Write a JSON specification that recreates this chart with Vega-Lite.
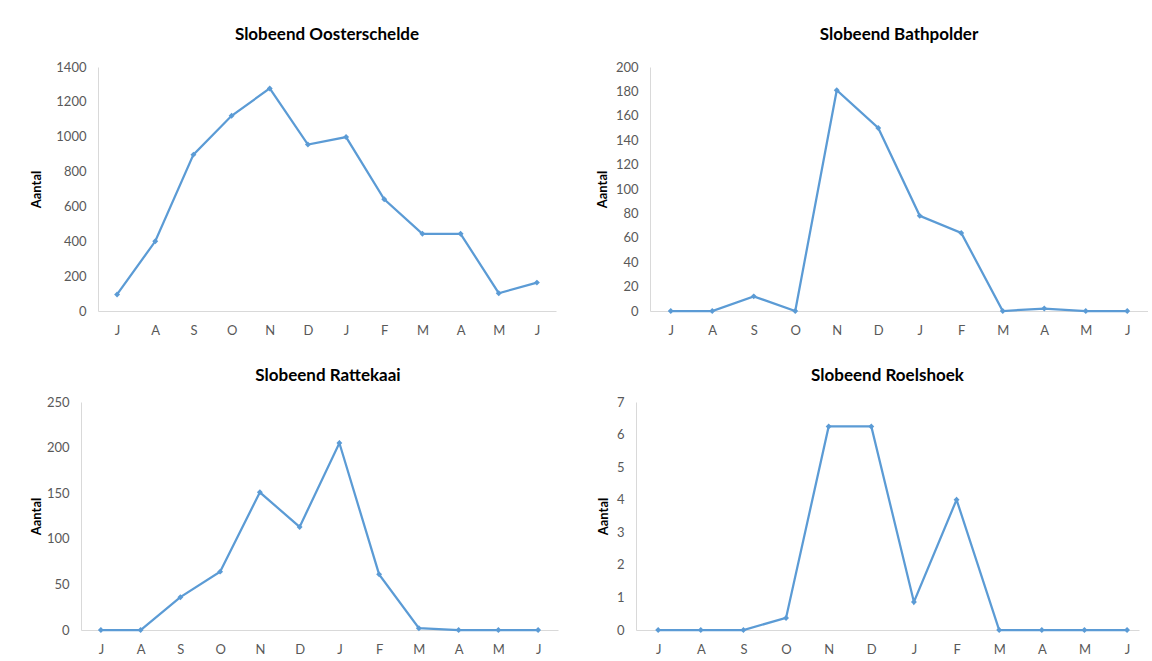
{
  "$schema": "https://vega.github.io/schema/vega-lite/v6.json",
  "padding": {"left": 30, "top": 26, "right": 0, "bottom": 0},
  "background": "#ffffff",
  "data": {
    "values": [
      {"gebied": "Oosterschelde", "maand": "jul", "aantal": 95},
      {"gebied": "Oosterschelde", "maand": "aug", "aantal": 400},
      {"gebied": "Oosterschelde", "maand": "sep", "aantal": 897},
      {"gebied": "Oosterschelde", "maand": "okt", "aantal": 1120},
      {"gebied": "Oosterschelde", "maand": "nov", "aantal": 1277},
      {"gebied": "Oosterschelde", "maand": "dec", "aantal": 955},
      {"gebied": "Oosterschelde", "maand": "jan", "aantal": 998},
      {"gebied": "Oosterschelde", "maand": "feb", "aantal": 641},
      {"gebied": "Oosterschelde", "maand": "mrt", "aantal": 443},
      {"gebied": "Oosterschelde", "maand": "apr", "aantal": 443},
      {"gebied": "Oosterschelde", "maand": "mei", "aantal": 102},
      {"gebied": "Oosterschelde", "maand": "jun", "aantal": 163},
      {"gebied": "Bathpolder", "maand": "jul", "aantal": 0},
      {"gebied": "Bathpolder", "maand": "aug", "aantal": 0},
      {"gebied": "Bathpolder", "maand": "sep", "aantal": 12},
      {"gebied": "Bathpolder", "maand": "okt", "aantal": 0},
      {"gebied": "Bathpolder", "maand": "nov", "aantal": 181},
      {"gebied": "Bathpolder", "maand": "dec", "aantal": 150},
      {"gebied": "Bathpolder", "maand": "jan", "aantal": 78},
      {"gebied": "Bathpolder", "maand": "feb", "aantal": 64},
      {"gebied": "Bathpolder", "maand": "mrt", "aantal": 0},
      {"gebied": "Bathpolder", "maand": "apr", "aantal": 2},
      {"gebied": "Bathpolder", "maand": "mei", "aantal": 0},
      {"gebied": "Bathpolder", "maand": "jun", "aantal": 0},
      {"gebied": "Rattekaai", "maand": "jul", "aantal": 0},
      {"gebied": "Rattekaai", "maand": "aug", "aantal": 0},
      {"gebied": "Rattekaai", "maand": "sep", "aantal": 36},
      {"gebied": "Rattekaai", "maand": "okt", "aantal": 64},
      {"gebied": "Rattekaai", "maand": "nov", "aantal": 151},
      {"gebied": "Rattekaai", "maand": "dec", "aantal": 113},
      {"gebied": "Rattekaai", "maand": "jan", "aantal": 205},
      {"gebied": "Rattekaai", "maand": "feb", "aantal": 61},
      {"gebied": "Rattekaai", "maand": "mrt", "aantal": 2},
      {"gebied": "Rattekaai", "maand": "apr", "aantal": 0},
      {"gebied": "Rattekaai", "maand": "mei", "aantal": 0},
      {"gebied": "Rattekaai", "maand": "jun", "aantal": 0},
      {"gebied": "Roelshoek", "maand": "jul", "aantal": 0},
      {"gebied": "Roelshoek", "maand": "aug", "aantal": 0},
      {"gebied": "Roelshoek", "maand": "sep", "aantal": 0},
      {"gebied": "Roelshoek", "maand": "okt", "aantal": 0.37},
      {"gebied": "Roelshoek", "maand": "nov", "aantal": 6.25},
      {"gebied": "Roelshoek", "maand": "dec", "aantal": 6.25},
      {"gebied": "Roelshoek", "maand": "jan", "aantal": 0.86},
      {"gebied": "Roelshoek", "maand": "feb", "aantal": 4},
      {"gebied": "Roelshoek", "maand": "mrt", "aantal": 0},
      {"gebied": "Roelshoek", "maand": "apr", "aantal": 0},
      {"gebied": "Roelshoek", "maand": "mei", "aantal": 0},
      {"gebied": "Roelshoek", "maand": "jun", "aantal": 0}
    ]
  },
  "config": {
    "font": "Lato",
    "view": {"stroke": null},
    "axis": {
      "domainColor": "#D9D9D9",
      "domainWidth": 1,
      "ticks": false,
      "grid": false,
      "labelColor": "#595959",
      "labelFont": "Lato",
      "labelFontSize": 13,
      "titleFont": "Lato",
      "titleFontSize": 13,
      "titleFontWeight": "bold",
      "titleColor": "#000000"
    },
    "axisX": {"labelAngle": 0, "labelPadding": 13, "title": null},
    "axisY": {"labelPadding": 12, "format": "d"},
    "title": {"font": "Lato", "fontSize": 17, "fontWeight": "bold", "color": "#000000", "anchor": "middle", "offset": 17}
  },
  "align": "none",
  "spacing": 30,
  "vconcat": [
    {
      "align": "none",
      "spacing": 40,
      "hconcat": [
        {
          "title": "Slobeend Oosterschelde",
          "width": 458,
          "height": 244,
          "transform": [{"filter": "datum.gebied === 'Oosterschelde'"}],
          "mark": {"type": "line", "color": "#5B9BD5", "strokeWidth": 2.25, "point": {"shape": "diamond", "size": 35, "filled": true, "color": "#5B9BD5"}},
          "encoding": {
            "x": {"field": "maand", "type": "ordinal", "sort": ["jul", "aug", "sep", "okt", "nov", "dec", "jan", "feb", "mrt", "apr", "mei", "jun"], "scale": {"type": "point", "padding": 0.5}, "axis": {"labelExpr": "upper(slice(datum.value, 0, 1))"}},
            "y": {"field": "aantal", "type": "quantitative", "scale": {"domain": [0, 1400], "nice": false}, "axis": {"title": "Aantal", "values": [0, 200, 400, 600, 800, 1000, 1200, 1400], "titlePadding": 12}}
          }
        },
        {
          "title": "Slobeend Bathpolder",
          "width": 498,
          "height": 244,
          "transform": [{"filter": "datum.gebied === 'Bathpolder'"}],
          "mark": {"type": "line", "color": "#5B9BD5", "strokeWidth": 2.25, "point": {"shape": "diamond", "size": 35, "filled": true, "color": "#5B9BD5"}},
          "encoding": {
            "x": {"field": "maand", "type": "ordinal", "sort": ["jul", "aug", "sep", "okt", "nov", "dec", "jan", "feb", "mrt", "apr", "mei", "jun"], "scale": {"type": "point", "padding": 0.5}, "axis": {"labelExpr": "upper(slice(datum.value, 0, 1))"}},
            "y": {"field": "aantal", "type": "quantitative", "scale": {"domain": [0, 200], "nice": false}, "axis": {"title": "Aantal", "values": [0, 20, 40, 60, 80, 100, 120, 140, 160, 180, 200], "titlePadding": 6}}
          }
        }
      ]
    },
    {
      "align": "none",
      "spacing": 22,
      "hconcat": [
        {
          "title": {"text": "Slobeend Rattekaai", "offset": 11},
          "width": 460,
          "height": 228,
          "transform": [{"filter": "datum.gebied === 'Rattekaai'"}],
          "mark": {"type": "line", "color": "#5B9BD5", "strokeWidth": 2.25, "point": {"shape": "diamond", "size": 35, "filled": true, "color": "#5B9BD5"}},
          "encoding": {
            "x": {"field": "maand", "type": "ordinal", "sort": ["jul", "aug", "sep", "okt", "nov", "dec", "jan", "feb", "mrt", "apr", "mei", "jun"], "scale": {"type": "point", "padding": 0.5, "range": [-17, 460]}, "axis": {"labelExpr": "upper(slice(datum.value, 0, 1))"}},
            "y": {"field": "aantal", "type": "quantitative", "scale": {"domain": [0, 250], "nice": false}, "axis": {"title": "Aantal", "values": [0, 50, 100, 150, 200, 250], "titlePadding": 3, "offset": 17}}
          }
        },
        {
          "title": {"text": "Slobeend Roelshoek", "offset": 11},
          "width": 503,
          "height": 228,
          "transform": [{"filter": "datum.gebied === 'Roelshoek'"}],
          "mark": {"type": "line", "color": "#5B9BD5", "strokeWidth": 2.25, "point": {"shape": "diamond", "size": 35, "filled": true, "color": "#5B9BD5"}},
          "encoding": {
            "x": {"field": "maand", "type": "ordinal", "sort": ["jul", "aug", "sep", "okt", "nov", "dec", "jan", "feb", "mrt", "apr", "mei", "jun"], "scale": {"type": "point", "padding": 0.4, "align": 0.65}, "axis": {"labelExpr": "upper(slice(datum.value, 0, 1))"}},
            "y": {"field": "aantal", "type": "quantitative", "scale": {"domain": [0, 7], "nice": false}, "axis": {"title": "Aantal", "values": [0, 1, 2, 3, 4, 5, 6, 7], "titlePadding": 6}}
          }
        }
      ]
    }
  ]
}
